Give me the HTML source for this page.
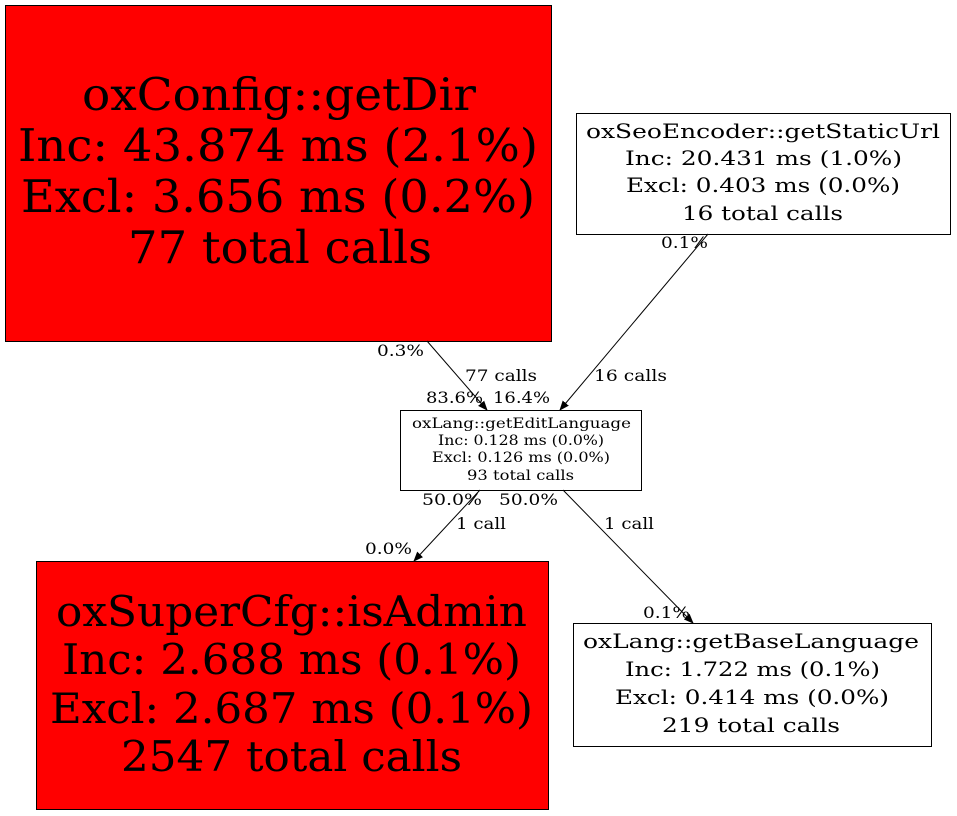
<!DOCTYPE html>
<html><head><style>body{margin:0;background:#fff}svg{display:block}</style></head><body>
<svg width="957" height="816" viewBox="0 0 957 816" xmlns="http://www.w3.org/2000/svg" font-family="'DejaVu Serif', 'Liberation Serif', serif">
<defs><marker id="a" markerWidth="10" markerHeight="10" refX="9" refY="5" orient="auto" markerUnits="userSpaceOnUse"><path d="M0,1 L10,5 L0,9 Z" fill="#000"/></marker></defs>
<rect x="5.5" y="5.5" width="546" height="336" fill="#f00" stroke="#000"/>
<g font-size="45">
<text x="82" y="110" textLength="394" lengthAdjust="spacingAndGlyphs">oxConfig::getDir</text>
<text x="18" y="161" textLength="520" lengthAdjust="spacingAndGlyphs">Inc: 43.874 ms (2.1%)</text>
<text x="21" y="212" textLength="514" lengthAdjust="spacingAndGlyphs">Excl: 3.656 ms (0.2%)</text>
<text x="128" y="263" textLength="304" lengthAdjust="spacingAndGlyphs">77 total calls</text>
</g>
<rect x="576.5" y="113.5" width="374" height="121" fill="#fff" stroke="#000"/>
<g font-size="20">
<text x="586" y="138" textLength="354" lengthAdjust="spacingAndGlyphs">oxSeoEncoder::getStaticUrl</text>
<text x="625" y="165" textLength="277" lengthAdjust="spacingAndGlyphs">Inc: 20.431 ms (1.0%)</text>
<text x="626" y="192" textLength="274" lengthAdjust="spacingAndGlyphs">Excl: 0.403 ms (0.0%)</text>
<text x="682" y="220" textLength="161" lengthAdjust="spacingAndGlyphs">16 total calls</text>
</g>
<rect x="400.5" y="410.5" width="241" height="80" fill="#fff" stroke="#000"/>
<g font-size="14">
<text x="412" y="428" textLength="219" lengthAdjust="spacingAndGlyphs">oxLang::getEditLanguage</text>
<text x="438" y="445" textLength="166" lengthAdjust="spacingAndGlyphs">Inc: 0.128 ms (0.0%)</text>
<text x="432" y="462" textLength="178" lengthAdjust="spacingAndGlyphs">Excl: 0.126 ms (0.0%)</text>
<text x="467" y="480" textLength="107" lengthAdjust="spacingAndGlyphs">93 total calls</text>
</g>
<rect x="36.5" y="561.5" width="512" height="248" fill="#f00" stroke="#000"/>
<g font-size="42">
<text x="56" y="626" textLength="471" lengthAdjust="spacingAndGlyphs">oxSuperCfg::isAdmin</text>
<text x="62" y="674" textLength="459" lengthAdjust="spacingAndGlyphs">Inc: 2.688 ms (0.1%)</text>
<text x="50" y="723" textLength="483" lengthAdjust="spacingAndGlyphs">Excl: 2.687 ms (0.1%)</text>
<text x="121" y="771" textLength="341" lengthAdjust="spacingAndGlyphs">2547 total calls</text>
</g>
<rect x="573.5" y="623.5" width="358" height="123" fill="#fff" stroke="#000"/>
<g font-size="20">
<text x="583" y="648" textLength="336" lengthAdjust="spacingAndGlyphs">oxLang::getBaseLanguage</text>
<text x="625" y="676" textLength="255" lengthAdjust="spacingAndGlyphs">Inc: 1.722 ms (0.1%)</text>
<text x="615" y="704" textLength="274" lengthAdjust="spacingAndGlyphs">Excl: 0.414 ms (0.0%)</text>
<text x="662" y="732" textLength="178" lengthAdjust="spacingAndGlyphs">219 total calls</text>
</g>
<g stroke="#000" fill="none">
<line x1="427" y1="341" x2="487" y2="410" marker-end="url(#a)"/>
<line x1="708" y1="234" x2="560" y2="410" marker-end="url(#a)"/>
<line x1="480" y1="490" x2="414" y2="561" marker-end="url(#a)"/>
<line x1="563" y1="490" x2="693" y2="623" marker-end="url(#a)"/>
</g>
<g font-size="15.5">
<text x="377" y="356" textLength="47" lengthAdjust="spacingAndGlyphs">0.3%</text>
<text x="465" y="381" textLength="72" lengthAdjust="spacingAndGlyphs">77 calls</text>
<text x="426" y="403" textLength="57" lengthAdjust="spacingAndGlyphs">83.6%</text>
<text x="493" y="403" textLength="57" lengthAdjust="spacingAndGlyphs">16.4%</text>
<text x="661" y="248" textLength="47" lengthAdjust="spacingAndGlyphs">0.1%</text>
<text x="594" y="381" textLength="73" lengthAdjust="spacingAndGlyphs">16 calls</text>
<text x="422" y="505" textLength="60" lengthAdjust="spacingAndGlyphs">50.0%</text>
<text x="499" y="505" textLength="59" lengthAdjust="spacingAndGlyphs">50.0%</text>
<text x="456" y="529" textLength="50" lengthAdjust="spacingAndGlyphs">1 call</text>
<text x="604" y="529" textLength="50" lengthAdjust="spacingAndGlyphs">1 call</text>
<text x="365" y="554" textLength="47" lengthAdjust="spacingAndGlyphs">0.0%</text>
<text x="643" y="618" textLength="47" lengthAdjust="spacingAndGlyphs">0.1%</text>
</g>
</svg>
</body></html>
